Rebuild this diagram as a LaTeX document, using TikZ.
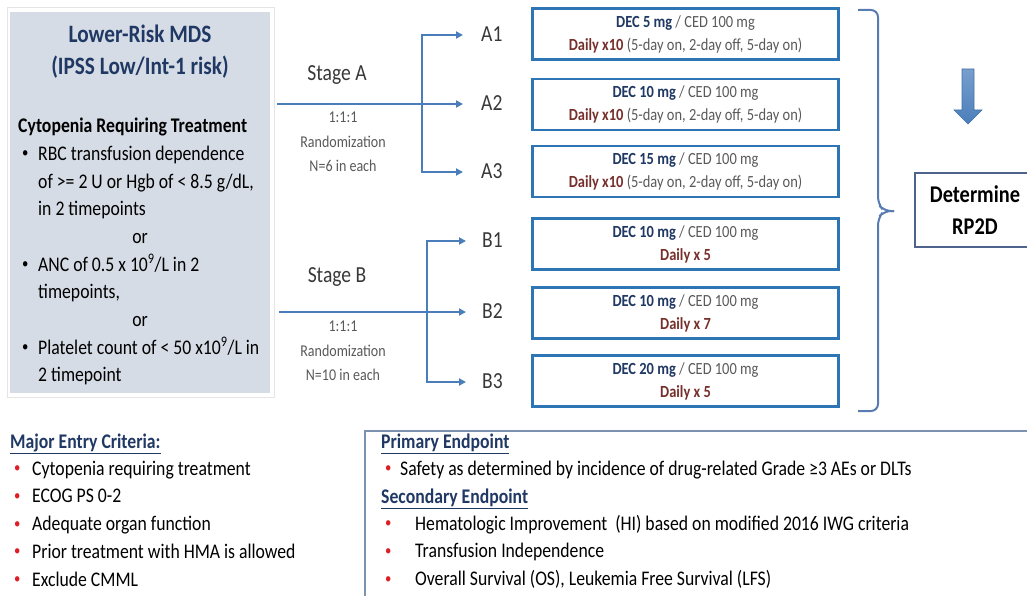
\documentclass[tikz,border=0pt]{standalone}
\usepackage{fontspec}
\setmainfont{Carlito}[FakeStretch=0.85]
\usetikzlibrary{arrows.meta}

\definecolor{navy}{RGB}{32,56,100}
\definecolor{armblue}{RGB}{74,126,187}
\definecolor{doseblue}{RGB}{46,117,182}
\definecolor{panelfill}{RGB}{214,220,229}
\definecolor{darkred}{RGB}{118,48,44}
\definecolor{txtgray}{RGB}{89,89,89}
\definecolor{bulletred}{RGB}{222,30,36}
\definecolor{framegray}{RGB}{125,146,176}
\definecolor{braceblue}{RGB}{88,124,178}
\definecolor{detframe}{RGB}{78,100,140}

\newcommand\fsz[2]{\fontsize{#1}{#2}\selectfont}
\newcommand\bodyfont{\fsz{20.8}{26}}
\newcommand\dose[3]{{\bfseries\color{navy}DEC #1 mg} / CED 100 mg\\{\bfseries\color{darkred}Daily #2}#3}
\newcommand\smallbul{\raisebox{.12em}{\scalebox{.72}{\textbullet}}}
\newcommand\bul[1]{\makebox[#1][l]{\smallbul}}
\newcommand\rbul[1]{\makebox[#1][l]{\textcolor{bulletred}{\smallbul}}}

\tikzset{
 txtline/.style={inner sep=0pt, anchor=west, text height=1.25em, text depth=0pt},
 panel/.style={fill=panelfill, inner sep=0pt, minimum width=260pt, minimum height=381pt},
 arm/.style={draw=armblue, line width=2pt, shorten >=18pt, -{Triangle[length=7pt,width=7pt]}},
 armlabel/.style={txtline, font=\fsz{23}{26}, text=black!78},
 dosebox/.style={draw=doseblue, line width=2.8pt, minimum width=306pt, minimum height=51pt,
   align=center, text=txtgray, font=\fsz{17}{23}},
 rand/.style={font=\fsz{16.5}{24.5}, text=txtgray, align=center},
}

\begin{document}
\begin{tikzpicture}[x=1pt,y=-1pt]
 \useasboundingbox (0,0) rectangle (1027,596);

 % patient population
 \draw[black!10, line width=1pt] (7,8) rectangle (274,397);
 \node[panel] (mds) at (140,202.5) {};
 \node[txtline, anchor=center, font=\fsz{25}{30}\bfseries, text=navy] (title1) at (140,36) {Lower-Risk MDS};
 \node[txtline, anchor=center, font=\fsz{25}{30}\bfseries, text=navy] (title2) at (140,68) {(IPSS Low/Int-1 risk)};
 \node[txtline, font=\bodyfont\bfseries] (cyto) at (18,126) {Cytopenia Requiring Treatment};
 \node[txtline, font=\bodyfont] (rbc1) at (22,154) {\bul{16pt}RBC transfusion dependence};
 \node[txtline, font=\bodyfont] (rbc2) at (38,182) {of >= 2 U or Hgb of < 8.5 g/dL,};
 \node[txtline, font=\bodyfont] (rbc3) at (38,209) {in 2 timepoints};
 \node[txtline, anchor=center, font=\bodyfont] (or1) at (140,237) {or};
 \node[txtline, font=\bodyfont] (anc1) at (22,265) {\bul{16pt}ANC of 0.5 x 10\textsuperscript{9}/L in 2};
 \node[txtline, font=\bodyfont] (anc2) at (38,292) {timepoints,};
 \node[txtline, anchor=center, font=\bodyfont] (or2) at (140,320) {or};
 \node[txtline, font=\bodyfont] (plt1) at (22,348) {\bul{16pt}Platelet count of < 50 x10\textsuperscript{9}/L in};
 \node[txtline, font=\bodyfont] (plt2) at (38,375) {2 timepoint};

 % stage A
 \node[txtline, anchor=center, font=\fsz{23}{26}, text=black!78] (stageA) at (337,74) {Stage A};
 \node[rand] (randA) at (343,142) {1:1:1\\Randomization\\N=6 in each};
 \coordinate (inA) at (277,104);
 \coordinate (splitA) at (422,104);
 \node[armlabel] (a1) at (481,35) {A1};
 \node[armlabel] (a2) at (481,104) {A2};
 \node[armlabel] (a3) at (481,172) {A3};
 \draw[arm] (inA) -- (a2.west);
 \draw[arm] (splitA) |- (a1.west);
 \draw[arm] (splitA) |- (a3.west);

 % stage B
 \node[txtline, anchor=center, font=\fsz{23}{26}, text=black!78] (stageB) at (337,276) {Stage B};
 \node[rand] (randB) at (343,351) {1:1:1\\Randomization\\N=10 in each};
 \coordinate (inB) at (279,312);
 \coordinate (splitB) at (427,312);
 \node[armlabel] (b1) at (482,241) {B1};
 \node[armlabel] (b2) at (482,312) {B2};
 \node[armlabel] (b3) at (482,382) {B3};
 \draw[arm, shorten >=16pt] (inB) -- (b2.west);
 \draw[arm, shorten >=16pt] (splitB) |- (b1.west);
 \draw[arm, shorten >=16pt] (splitB) |- (b3.west);

 % dose levels
 \node[dosebox] (doseA1) at (685.5,34) {\dose{5}{x10}{ (5-day on, 2-day off, 5-day on)}};
 \node[dosebox] (doseA2) at (685.5,104.5) {\dose{10}{x10}{ (5-day on, 2-day off, 5-day on)}};
 \node[dosebox] (doseA3) at (685.5,171.5) {\dose{15}{x10}{ (5-day on, 2-day off, 5-day on)}};
 \node[dosebox] (doseB1) at (685.5,244) {\dose{10}{x 5}{}};
 \node[dosebox] (doseB2) at (685.5,313) {\dose{10}{x 7}{}};
 \node[dosebox] (doseB3) at (685.5,381) {\dose{20}{x 5}{}};

 % brace and outcome
 \draw[braceblue, line width=2pt, rounded corners=7pt] (858,10) -- (878,10) -- (878,204) -- (884,211) -- (894,211);
 \draw[braceblue, line width=2pt, rounded corners=7pt] (858,411) -- (878,411) -- (878,218) -- (884,211) -- (894,211);
 \shade[top color=armblue!75, bottom color=armblue, draw=armblue!90!black, line width=.6pt]
   (962,69) -- (974,69) -- (974,110) -- (982,110) -- (968,124) -- (954,110) -- (962,110) -- cycle;
 \node[draw=detframe, line width=1.2pt, minimum width=120pt, minimum height=74pt,
   font=\fsz{24}{32}\bfseries, align=center] (rp2d) at (975,210) {Determine\\RP2D};

 % entry criteria
 \node[txtline, font=\bodyfont\bfseries, text=navy] (entry) at (10,442) {\underline{Major Entry Criteria:}};
 \foreach \t [count=\i] in {Cytopenia requiring treatment, ECOG PS 0-2, Adequate organ function,
   Prior treatment with HMA is allowed, Exclude CMML}
   \node[txtline, font=\bodyfont] (entry\i) at (14,441+27.8*\i) {\rbul{18pt}\t};

 % endpoints
 \draw[framegray, line width=1.2pt] (365,431) rectangle (1040,597);
 \node[txtline, font=\bodyfont\bfseries, text=navy] (prim) at (381,442) {\underline{Primary Endpoint}};
 \node[txtline, font=\bodyfont] (safety) at (385,469) {\rbul{15pt}Safety as determined by incidence of drug-related Grade ≥3 AEs or DLTs};
 \node[txtline, font=\bodyfont\bfseries, text=navy] (sec) at (381,497) {\underline{Secondary Endpoint}};
 \foreach \t [count=\i] in {Hematologic Improvement\ \ (HI) based on modified 2016 IWG criteria,
   Transfusion Independence, {Overall Survival (OS), Leukemia Free Survival (LFS)}}
   \node[txtline, font=\bodyfont] (sec\i) at (385,496+27.8*\i) {\rbul{30pt}\t};
\end{tikzpicture}
\end{document}
